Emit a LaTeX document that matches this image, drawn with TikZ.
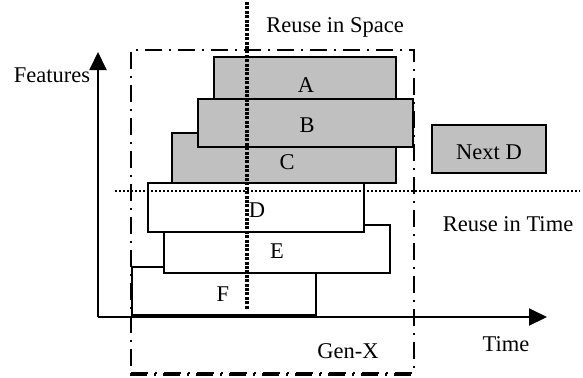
\documentclass[tikz,border=0pt]{standalone}
\usepackage{fontspec}
\setmainfont{Liberation Serif}
\usepackage{tikz}
\usetikzlibrary{arrows.meta,fit,positioning}
\usepackage{xcolor}
\definecolor{boxgray}{RGB}{192,192,192}
\tikzset{
  gblock/.style  = {rectangle, draw=black, line width=1pt, fill=boxgray,
                    inner sep=0pt},
  wblock/.style  = {rectangle, draw=black, line width=1pt, fill=white,
                    inner sep=0pt},
  frame/.style   = {draw=black, line width=1pt,
                    dash pattern=on 8.5pt off 3.5pt on 1pt off 3.5pt},
  sdots/.style   = {draw=black, line width=1.6pt, dash pattern=on 1.5pt off 0.7pt},
  tdots/.style   = {draw=black, line width=1pt, dash pattern=on 1pt off 1pt},
  axis/.style    = {-{Triangle[length=9pt,width=8.5pt]}, line width=1pt, draw=black},
  lbl/.style     = {inner sep=0pt},
}

\begin{document}
\begin{tikzpicture}[x=0.5pt, y=-0.5pt, font=\fontsize{11.25}{13.5}\selectfont]
\useasboundingbox (0,0) rectangle (583,377);

%% ── Gen-X frame ───────────────────────────────────────────
\node[frame, inner sep=0pt, fit={(131,50) (414,373)}] (genx) {};
\draw[frame, line width=1.5pt] (genx.south west) -- (genx.south east);

%% ── Axes ──────────────────────────────────────────────────
\coordinate (origin) at (98,317);
\coordinate (ftop)   at (98,52);
\coordinate (tend)   at (547,317);

%% ── Gray blocks (space) ───────────────────────────────────
\node[gblock, fit={(214,57) (396,99)}]   (A) {};
\node[gblock, fit={(172,133) (396,183)}] (C) {};
\node[gblock, fit={(198,99) (413,147)}]  (B) {};
\node[lbl] (A text) at (306,85)  {A};
\node[lbl] (B text) at (307,125) {B};
\node[lbl] (C text) at (287,162) {C};

%% ── White blocks (time) ───────────────────────────────────
\node[wblock, fit={(132,267) (316,315)}] (F) {};
\node[wblock, fit={(164,225) (390,273)}] (E) {};
\node[wblock, fit={(148,183) (364,232)}] (D) {};
\node[lbl] (F text) at (223,294) {F};
\node[lbl] (E text) at (277,251) {E};
\node[lbl] (D text) at (257,210) {D};

\node[gblock, fit={(432,125) (546,173)}] (nextD) {};
\node[lbl] (nextD text) at (489,152) {Next D};

%% ── Axes arrows ───────────────────────────────────────────
\draw[axis] (origin) -- (ftop);
\draw[axis] (origin) -- (tend);

%% ── Reuse lines ───────────────────────────────────────────
\coordinate (sp top) at (247,2);
\coordinate (sp bot) at (247,310);
\coordinate (tm left)  at (115,191);
\coordinate (tm right) at (580,191);
\draw[sdots] (sp top) -- (sp bot);
\draw[tdots] (tm left) -- (tm right);

%% ── Labels ────────────────────────────────────────────────
\node[lbl] (space) at (335,27)  {Reuse in Space};
\node[lbl] (feat)  at (52,75)   {Features};
\node[lbl] (rtime) at (508,224) {Reuse in Time};
\node[lbl] (time)  at (506,344) {Time};
\node[lbl] (gen)   at (348,351) {Gen-X};

\end{tikzpicture}
\end{document}
